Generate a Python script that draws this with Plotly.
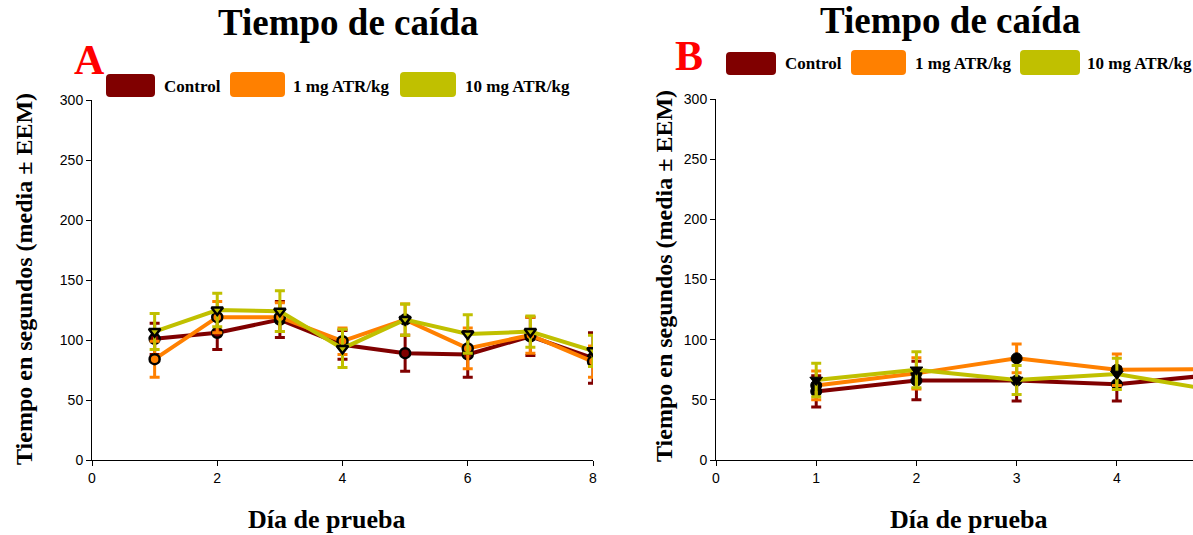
import plotly.graph_objects as go

W, H = 1193, 535

# ---------------- data ----------------
series_names = ["Control", "1 mg ATR/kg", "10 mg ATR/kg"]
series_colors = ["#800000", "#FF8000", "#C0C000"]

days_a = [1, 2, 3, 4, 5, 6, 7, 8]
control_a = [101, 106, 117, 96, 89, 88, 103, 85]
control_a_err = [13, 14, 15, 12, 15, 19, 16, 21]
atr1_a = [84, 119, 119, 99, 117, 93, 104, 82]
atr1_a_err = [15, 13, 12, 11, 13, 17, 15, 13]
atr10_a = [107, 125, 124, 93, 117, 105, 107, 91]
atr10_a_err = [15, 14, 17, 16, 13, 16, 13, 13]

days_b = [1, 2, 3, 4, 5]
control_b = [57, 66, 66, 63, 71]
control_b_err = [13, 16, 17, 14, 10]
atr1_b = [62, 72, 84.5, 75, 75.5]
atr1_b_err = [12, 13, 12, 13, 10]
atr10_b = [66.5, 75, 66.5, 71.5, 57.5]
atr10_b_err = [14, 15, 12, 13, 10]

title_text = "Tiempo de caída"
xaxis_title = "Día de prueba"
yaxis_title = "Tiempo en segundos (media ± EEM)"
panel_labels = ["A", "B"]

SERIF = "Liberation Serif, Times New Roman, serif"
SANS = "Liberation Sans, Arial, sans-serif"


def px(x):
    return x / W


def py(y):
    return 1 - y / H


fig = go.Figure()

panel_a = [(control_a, control_a_err), (atr1_a, atr1_a_err), (atr10_a, atr10_a_err)]
panel_b = [(control_b, control_b_err), (atr1_b, atr1_b_err), (atr10_b, atr10_b_err)]
symbols = ["circle", "circle", "triangle-down"]

for i, (vals, errs) in enumerate(panel_a):
    fig.add_trace(go.Scatter(
        x=days_a, y=vals, name=series_names[i], mode="lines+markers",
        line=dict(color=series_colors[i], width=4),
        marker=dict(symbol=symbols[i], size=10, color=series_colors[i],
                    line=dict(color="black", width=2.5)),
        error_y=dict(type="data", array=errs, visible=True, color=series_colors[i],
                     thickness=3, width=5),
        xaxis="x", yaxis="y", showlegend=False,
    ))

for i, (vals, errs) in enumerate(panel_b):
    fig.add_trace(go.Scatter(
        x=days_b, y=vals, name=series_names[i], mode="lines+markers",
        line=dict(color=series_colors[i], width=4),
        marker=dict(symbol=symbols[i], size=11, color="black",
                    line=dict(color="black", width=1)),
        error_y=dict(type="data", array=errs, visible=True, color=series_colors[i],
                     thickness=3, width=5),
        xaxis="x2", yaxis="y2", showlegend=False, cliponaxis=True,
    ))

axis_common = dict(showline=True, linecolor="black", linewidth=1, ticks="outside",
                   ticklen=5, tickcolor="black", showgrid=False, zeroline=False,
                   automargin=False,
                   tickfont=dict(family=SANS, size=14, color="black"))

fig.update_layout(
    width=W, height=H, margin=dict(l=0, r=0, t=0, b=0, pad=0),
    paper_bgcolor="white", plot_bgcolor="white", showlegend=False,
    xaxis=dict(domain=[px(92), px(593)], range=[0, 8], tick0=0, dtick=2,
               anchor="y", **axis_common),
    yaxis=dict(domain=[py(460), py(100)], range=[0, 300], tick0=0, dtick=50,
               anchor="x", **axis_common),
    xaxis2=dict(domain=[px(716), 1.0], range=[0, 4.76], tick0=0, dtick=1,
                anchor="y2", **axis_common),
    yaxis2=dict(domain=[py(460), py(99)], range=[0, 300], tick0=0, dtick=50,
                anchor="x2", **axis_common),
)

annotations = []
shapes = []


def rounded_rect(x0, y0, x1, y1, r=4):
    pts = []
    pts.append(f"M {px(x0 + r)},{py(y0)}")
    pts.append(f"L {px(x1 - r)},{py(y0)}")
    pts.append(f"Q {px(x1)},{py(y0)} {px(x1)},{py(y0 + r)}")
    pts.append(f"L {px(x1)},{py(y1 - r)}")
    pts.append(f"Q {px(x1)},{py(y1)} {px(x1 - r)},{py(y1)}")
    pts.append(f"L {px(x0 + r)},{py(y1)}")
    pts.append(f"Q {px(x0)},{py(y1)} {px(x0)},{py(y1 - r)}")
    pts.append(f"L {px(x0)},{py(y0 + r)}")
    pts.append(f"Q {px(x0)},{py(y0)} {px(x0 + r)},{py(y0)} Z")
    return " ".join(pts)


panels = [
    dict(title_x=348, title_y=22, letter_x=89, letter_y=60, xt_x=326, yt_x=24,
         yt_y=279,
         swatches=[(106, 74, 155, 97), (230, 72, 285, 97), (400, 72, 456, 97)],
         texts=[162, 291, 463], text_y=87),
    dict(title_x=950, title_y=20, letter_x=689, letter_y=56, xt_x=968, yt_x=664,
         yt_y=276,
         swatches=[(726, 52, 776, 75), (851, 50, 906, 75), (1020, 50, 1080, 75)],
         texts=[783, 913, 1085], text_y=64),
]

for k, p in enumerate(panels):
    annotations.append(dict(text=f"<b>{title_text}</b>", x=px(p["title_x"]), y=py(p["title_y"]),
                            xref="paper", yref="paper", showarrow=False,
                            xanchor="center", yanchor="middle",
                            font=dict(family=SERIF, size=37, color="black")))
    annotations.append(dict(text=f"<b>{panel_labels[k]}</b>", x=px(p["letter_x"]), y=py(p["letter_y"]),
                            xref="paper", yref="paper", showarrow=False,
                            xanchor="center", yanchor="middle",
                            font=dict(family=SERIF, size=42, color="#FF0000")))
    annotations.append(dict(text=f"<b>{xaxis_title}</b>", x=px(p["xt_x"]), y=py(519),
                            xref="paper", yref="paper", showarrow=False,
                            xanchor="center", yanchor="middle",
                            font=dict(family=SERIF, size=26, color="black")))
    annotations.append(dict(text=f"<b>{yaxis_title}</b>", x=px(p["yt_x"]), y=py(p["yt_y"]),
                            xref="paper", yref="paper", showarrow=False, textangle=-90,
                            xanchor="center", yanchor="middle",
                            font=dict(family=SERIF, size=24, color="black")))
    for i, (x0, y0, x1, y1) in enumerate(p["swatches"]):
        shapes.append(dict(type="path", path=rounded_rect(x0, y0, x1, y1),
                           xref="paper", yref="paper", fillcolor=series_colors[i],
                           line=dict(width=0)))
        annotations.append(dict(text=f"<b>{series_names[i]}</b>", x=px(p["texts"][i]),
                                y=py(p["text_y"]), xref="paper", yref="paper",
                                showarrow=False, xanchor="left", yanchor="middle",
                                font=dict(family=SERIF, size=17, color="black")))

fig.update_layout(annotations=annotations, shapes=shapes)

fig.write_html("out.html", config={"displayModeBar": False},
               post_script="document.body.style.margin='0';document.body.style.padding='0';document.body.style.overflow='hidden';")
